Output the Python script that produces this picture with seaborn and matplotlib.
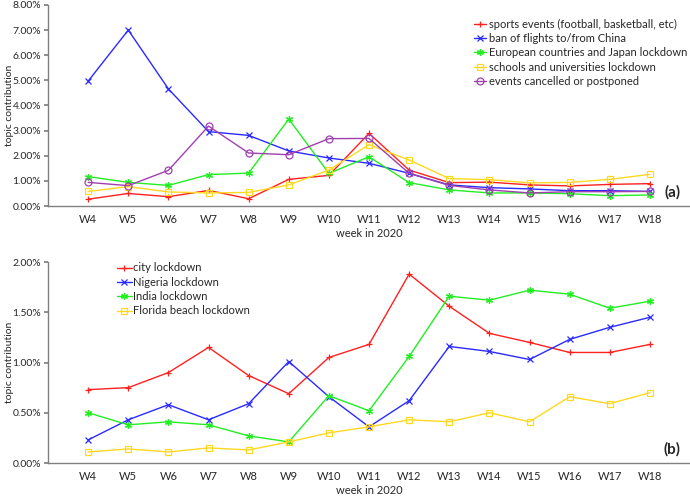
import matplotlib
matplotlib.use("Agg")
import matplotlib.pyplot as plt
import seaborn as sns
import pandas as pd
from matplotlib.ticker import FuncFormatter

weeks = ["W4", "W5", "W6", "W7", "W8", "W9", "W10", "W11", "W12", "W13", "W14", "W15", "W16", "W17", "W18"]

# Panel (a)
sports = [0.27, 0.50, 0.37, 0.62, 0.29, 1.06, 1.22, 2.89, 1.43, 0.93, 0.95, 0.84, 0.80, 0.86, 0.89]
flights_china = [4.97, 7.00, 4.66, 2.96, 2.81, 2.19, 1.91, 1.70, 1.30, 0.84, 0.73, 0.68, 0.61, 0.61, 0.58]
europe_japan = [1.17, 0.94, 0.82, 1.25, 1.31, 3.46, 1.30, 1.96, 0.93, 0.64, 0.52, 0.52, 0.49, 0.41, 0.44]
schools = [0.58, 0.77, 0.56, 0.52, 0.54, 0.84, 1.43, 2.44, 1.83, 1.09, 1.05, 0.92, 0.94, 1.06, 1.26]
events = [0.94, 0.81, 1.42, 3.18, 2.11, 2.04, 2.68, 2.69, 1.30, 0.82, 0.64, 0.52, 0.57, 0.57, 0.58]

labels_a = ["sports events (football, basketball, etc)", "ban of flights to/from China",
            "European countries and Japan lockdown", "schools and universities lockdown",
            "events cancelled or postponed"]

# Panel (b)
city = [0.73, 0.75, 0.90, 1.15, 0.87, 0.69, 1.05, 1.18, 1.88, 1.56, 1.29, 1.20, 1.10, 1.10, 1.18]
nigeria = [0.23, 0.43, 0.58, 0.43, 0.59, 1.01, 0.66, 0.36, 0.62, 1.16, 1.11, 1.03, 1.23, 1.35, 1.45]
india = [0.50, 0.38, 0.41, 0.38, 0.27, 0.21, 0.67, 0.52, 1.06, 1.66, 1.62, 1.72, 1.68, 1.54, 1.61]
florida = [0.11, 0.14, 0.11, 0.15, 0.13, 0.21, 0.30, 0.36, 0.43, 0.41, 0.50, 0.41, 0.66, 0.59, 0.70]

labels_b = ["city lockdown", "Nigeria lockdown", "India lockdown", "Florida beach lockdown"]

colors = ["#ff2020", "#2a2aff", "#22ee22", "#ffd820", "#a040b0"]
markers = ["+", "x", (6, 2, 0), "s", "o"]

sns.set_theme(style="white")
plt.rcParams["font.family"] = ["Lato", "DejaVu Sans"]

fig = plt.figure(figsize=(6.9, 4.97), dpi=100)
ax1 = fig.add_axes([0.0696, 0.5855, 0.9304, 0.4045])
ax2 = fig.add_axes([0.0696, 0.0684, 0.9304, 0.4044])

xpos = list(range(len(weeks)))


def draw(ax, series, labels):
    for vals, lab, c, m in zip(series, labels, colors, markers):
        df = pd.DataFrame({"x": xpos, "y": vals})
        mfc = "none" if m in ("s", "o") else c
        sns.lineplot(data=df, x="x", y="y", ax=ax, color=c, marker=m, markersize=5,
                     markerfacecolor=mfc, markeredgecolor=c, markeredgewidth=0.9,
                     linewidth=1.0, label=lab)


def style(ax, ymax, ystep):
    ax.set_xlim(-1, 15)
    ax.set_ylim(0, ymax)
    ax.set_xticks(xpos)
    ax.set_xticklabels(weeks)
    ticks = []
    v = 0.0
    while v <= ymax + 1e-9:
        ticks.append(v)
        v += ystep
    ax.set_yticks(ticks)
    ax.yaxis.set_major_formatter(FuncFormatter(lambda y, p: f"{y:.2f}%"))
    for s in ["top", "right"]:
        ax.spines[s].set_visible(False)
    for s in ["left", "bottom"]:
        ax.spines[s].set_color("#808080")
        ax.spines[s].set_linewidth(1.0)
    ax.tick_params(axis="x", direction="in", length=3, color="#808080", labelsize=8, pad=6)
    ax.tick_params(axis="y", direction="out", length=3, color="#808080", labelsize=7.5, pad=2,
                   left=True)
    ax.set_xlabel("week in 2020", fontsize=8, labelpad=2)
    ax.set_ylabel("topic contribution", fontsize=7.5)
    ax.yaxis.set_label_coords(-0.053, 0.5)
    ax.grid(False)


draw(ax1, [sports, flights_china, europe_japan, schools, events], labels_a)
draw(ax2, [city, nigeria, india, florida], labels_b)
style(ax1, 8.0, 1.0)
style(ax2, 2.0, 0.5)

leg1 = ax1.legend(loc="upper left", bbox_to_anchor=(0.657, 0.955), frameon=False, fontsize=8,
                  handlelength=1.1, handletextpad=0.2, labelspacing=0.3, borderaxespad=0)
leg2 = ax2.legend(loc="upper left", bbox_to_anchor=(0.1, 1.02), frameon=False, fontsize=8,
                  handlelength=1.4, handletextpad=0.1, labelspacing=0.3, borderaxespad=0)

ax1.text(0.985, 0.03, "(a)", transform=ax1.transAxes, ha="right", va="bottom",
         fontsize=11, fontweight="bold")
ax2.text(0.985, 0.03, "(b)", transform=ax2.transAxes, ha="right", va="bottom",
         fontsize=11, fontweight="bold")

fig.savefig("out.png", dpi=100)
